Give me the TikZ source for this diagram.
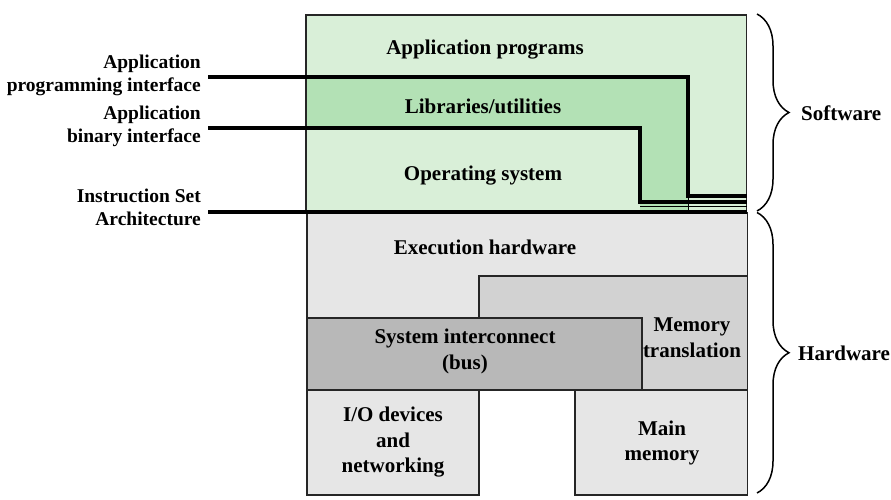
\documentclass[tikz,border=0pt]{standalone}
\usepackage{fontspec}
\setmainfont{Liberation Serif}
\usetikzlibrary{decorations.pathreplacing}
\definecolor{lgreen}{HTML}{D9EFD8}
\definecolor{dgreen}{HTML}{B3E1B5}
\definecolor{lgray}{HTML}{E6E6E6}
\definecolor{mgray}{HTML}{D2D2D2}
\definecolor{dgray}{HTML}{B8B8B8}
\begin{document}
\begin{tikzpicture}[x=1pt,y=-1pt,
  thinb/.style={draw=black!85,line width=1.4pt},
  hwb/.style={draw=black!85,line width=1.8pt},
  iface/.style={line width=4.2pt,line cap=butt},
  txt/.style={inner sep=0pt,align=center,font=\bfseries\fontsize{21}{25.5}\selectfont},
  lbl/.style={inner sep=0pt,align=right,anchor=east,font=\bfseries\fontsize{19.5}{23}\selectfont},
  sidelbl/.style={inner sep=0pt,anchor=west,font=\bfseries\fontsize{21}{25.5}\selectfont},
  bracestyle/.style={decorate,decoration={brace,amplitude=32pt},line width=1.5pt}]
\useasboundingbox (0,0) rectangle (891,500);
% software
\fill[lgreen] (306,15) rectangle (746.5,211.7);
\fill[dgreen] (306,76.7) -- (688,76.7) -- (688,211.7) -- (640,211.7) -- (640,128) -- (306,128) -- cycle;
\draw[thinb] (306,15) rectangle (746.5,211.7);
\draw[thin] (688,196) -- (688,211.7);
\draw[thin] (640,206.5) -- (746.5,206.5);
% hardware
\node[hwb,fill=lgray,anchor=north west,minimum width=440.5pt,minimum height=177pt,inner sep=0pt] (exec) at (306,212) {};
\node[hwb,fill=mgray,anchor=north west,minimum width=268.8pt,minimum height=114pt,inner sep=0pt] (mt) at (477.7,275) {};
\node[hwb,fill=dgray,anchor=north west,minimum width=334.7pt,minimum height=72.3pt,inner sep=0pt] (bus) at (306,316.7) {};
\node[hwb,fill=lgray,anchor=north west,minimum width=171.7pt,minimum height=105pt,inner sep=0pt] (io) at (306,389) {};
\node[hwb,fill=lgray,anchor=north west,minimum width=172.5pt,minimum height=105pt,inner sep=0pt] (mm) at (574,389) {};
% texts
\node[txt] (tapp) at (485,49.5) {Application programs};
\node[txt] (tlib) at (483,106.5) {Libraries/utilities};
\node[txt] (tos) at (483,176) {Operating system};
\node[txt] (texec) at (485,247.5) {Execution hardware};
\node[txt] (tbus) at (465,351.5) {System interconnect\\(bus)};
\node[txt] (tmt) at (692,337.5) {Memory\\translation};
\node[txt] (tio) at (393,442.5) {I/O devices\\and\\networking};
\node[txt] (tmm) at (662,443) {Main\\memory};
% left labels
\node[lbl] (api) at (201,75) {Application\\programming interface};
\node[lbl] (abi) at (201,126.5) {Application\\binary interface};
\node[lbl] (isa) at (201,207) {Instruction Set\\Architecture};
\coordinate (apiS) at (208,76.7);
\coordinate (apiC) at (688,76.7);
\coordinate (apiD) at (688,196);
\coordinate (apiE) at (746.5,196);
\coordinate (abiS) at (208,128);
\coordinate (abiC) at (640,128);
\coordinate (abiD) at (640,201.7);
\coordinate (abiE) at (746.5,201.7);
\coordinate (isaS) at (208,211.7);
\coordinate (isaE) at (746.5,211.7);
\draw[iface] (apiS) -- (apiC) -- (apiD) -- (apiE);
\draw[iface,line width=3.6pt] (abiS) -- (abiC) -- (abiD) -- (abiE);
\draw[iface] (isaS) -- (isaE);
% braces
\coordinate (swT) at (757,14);
\coordinate (swB) at (757,211);
\coordinate (hwT) at (757,212.5);
\coordinate (hwB) at (757,493);
\draw[bracestyle] (swT) -- (swB);
\draw[bracestyle] (hwT) -- (hwB);
\node[sidelbl] (sw) at (801,113) {Software};
\node[sidelbl] (hw) at (798,353) {Hardware};
\end{tikzpicture}
\end{document}
